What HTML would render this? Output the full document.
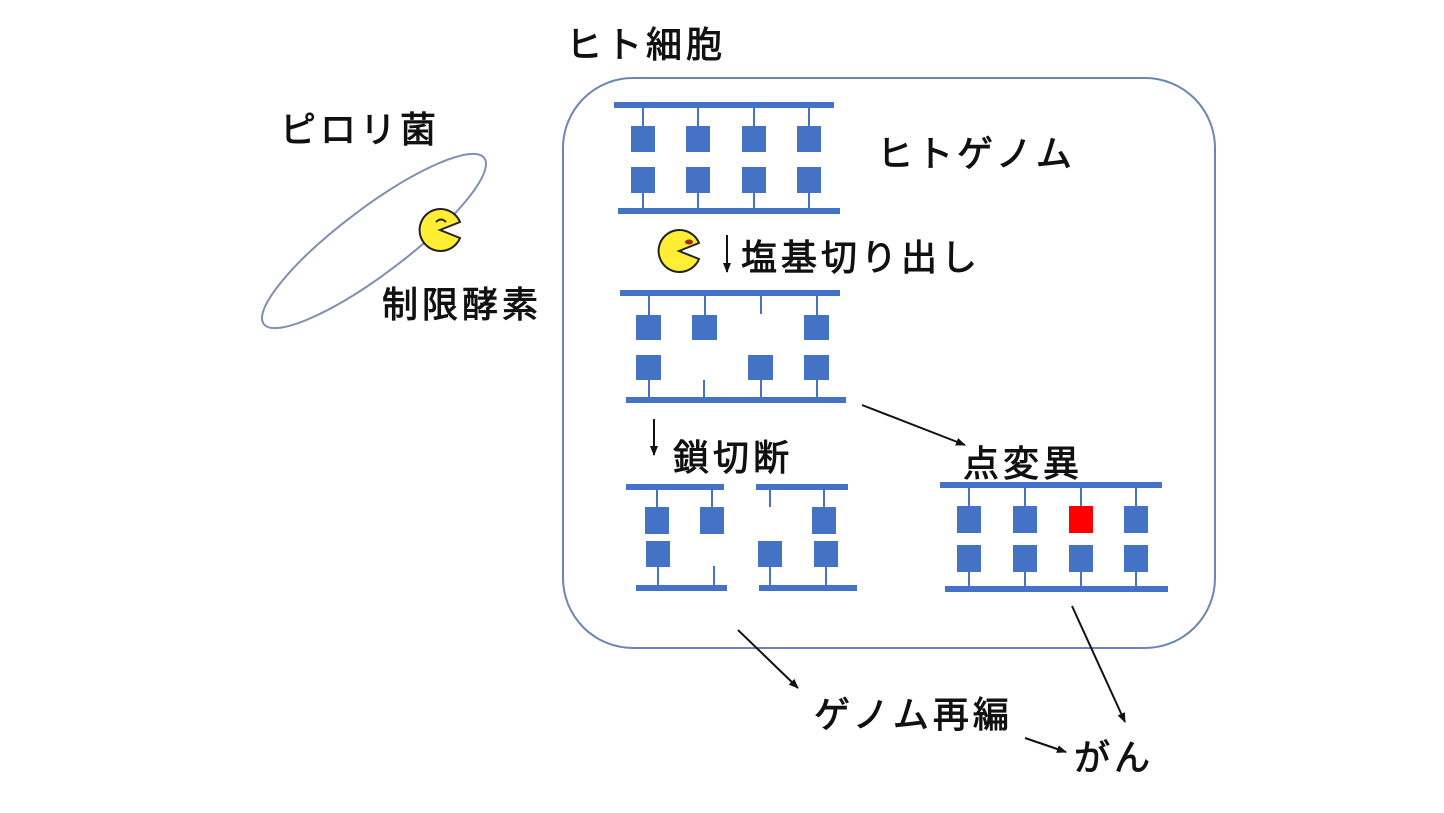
<!DOCTYPE html>
<html><head><meta charset="utf-8"><style>
html,body{margin:0;padding:0;background:#fff;}
svg text{font-family:"Liberation Sans","Noto Sans CJK JP",sans-serif;fill:#111;stroke:#111;stroke-width:0.9;letter-spacing:4px;}
</style></head><body>
<svg width="1444" height="808" viewBox="0 0 1444 808" xmlns="http://www.w3.org/2000/svg">
<defs><marker id="ah" markerWidth="10" markerHeight="8" refX="9" refY="4" orient="auto" markerUnits="userSpaceOnUse"><path d="M0,0 L10,4 L0,8 z" fill="#111"/></marker></defs>
<rect x="563" y="78" width="652" height="570" rx="70" fill="none" stroke="#6b86b5" stroke-width="2"/>
<ellipse cx="374" cy="241" rx="138" ry="33" transform="rotate(-37 374 241)" fill="none" stroke="#7d8fb3" stroke-width="2"/>
<g fill="#4472c4" stroke="none">
<rect x="614" y="102" width="220" height="6"/><rect x="618" y="208" width="222" height="6"/>
<rect x="631" y="126" width="24" height="26"/><rect x="686" y="126" width="24" height="26"/><rect x="742" y="126" width="24" height="26"/><rect x="797" y="126" width="24" height="26"/>
<rect x="631" y="167" width="24" height="26"/><rect x="686" y="167" width="24" height="26"/><rect x="742" y="167" width="24" height="26"/><rect x="797" y="167" width="24" height="26"/>
<rect x="642" y="108" width="2" height="18"/><rect x="697" y="108" width="2" height="18"/><rect x="753" y="108" width="2" height="18"/><rect x="808" y="108" width="2" height="18"/>
<rect x="642" y="193" width="2" height="15"/><rect x="697" y="193" width="2" height="15"/><rect x="753" y="193" width="2" height="15"/><rect x="808" y="193" width="2" height="15"/>
<rect x="620" y="290" width="220" height="6"/><rect x="626" y="397" width="220" height="6"/>
<rect x="636" y="315" width="25" height="25"/><rect x="692" y="315" width="25" height="25"/><rect x="804" y="315" width="25" height="25"/>
<rect x="636" y="355" width="25" height="25"/><rect x="748" y="355" width="25" height="25"/><rect x="804" y="355" width="25" height="25"/>
<rect x="648" y="296" width="2" height="19"/><rect x="704" y="296" width="2" height="19"/><rect x="760" y="296" width="2" height="18"/><rect x="816" y="296" width="2" height="19"/>
<rect x="648" y="380" width="2" height="17"/><rect x="703" y="380" width="2" height="17"/><rect x="760" y="380" width="2" height="17"/><rect x="816" y="380" width="2" height="17"/>
<rect x="626" y="484" width="98" height="6"/><rect x="636" y="585" width="91" height="6"/>
<rect x="645" y="507" width="24" height="27"/><rect x="700" y="507" width="24" height="27"/>
<rect x="646" y="541" width="24" height="26"/>
<rect x="656" y="490" width="2" height="17"/><rect x="711" y="490" width="2" height="17"/>
<rect x="657" y="567" width="2" height="18"/><rect x="713" y="566" width="2" height="19"/>
<rect x="756" y="484" width="92" height="6"/><rect x="759" y="585" width="98" height="6"/>
<rect x="769" y="490" width="2" height="17"/>
<rect x="812" y="507" width="24" height="27"/><rect x="823" y="490" width="2" height="17"/>
<rect x="758" y="541" width="24" height="26"/><rect x="814" y="541" width="24" height="26"/>
<rect x="769" y="567" width="2" height="18"/><rect x="825" y="567" width="2" height="18"/>
<rect x="940" y="482" width="222" height="6"/><rect x="945" y="586" width="223" height="6"/>
<rect x="957" y="506" width="24" height="27"/><rect x="1013" y="506" width="24" height="27"/><rect x="1069" y="506" width="24" height="27" fill="#ff0000"/><rect x="1124" y="506" width="24" height="27"/>
<rect x="957" y="545" width="24" height="27"/><rect x="1013" y="545" width="24" height="27"/><rect x="1069" y="545" width="24" height="27"/><rect x="1124" y="545" width="24" height="27"/>
<rect x="968" y="488" width="2" height="18"/><rect x="1024" y="488" width="2" height="18"/><rect x="1080" y="488" width="2" height="18"/><rect x="1135" y="488" width="2" height="18"/>
<rect x="968" y="572" width="2" height="14"/><rect x="1024" y="572" width="2" height="14"/><rect x="1080" y="572" width="2" height="14"/><rect x="1135" y="572" width="2" height="14"/>
</g>
<g stroke="#222" stroke-width="2" fill="#ffee33">
<path d="M440,230 L460,222 A21,21 0 1 0 460,238 Z"/>
<path d="M679,251 L699,243 A21,21 0 1 0 699,259 Z"/>
</g>
<path d="M436,222 q5,-5 10,0" fill="none" stroke="#222" stroke-width="2"/>
<ellipse cx="689" cy="242" rx="4" ry="2.5" fill="#a02a10"/>
<g stroke="#111" stroke-width="2" fill="none" marker-end="url(#ah)">
<line x1="727" y1="235" x2="727" y2="272"/>
<line x1="654" y1="419" x2="654" y2="455"/>
<line x1="862" y1="405" x2="965" y2="445"/>
<line x1="738" y1="630" x2="798" y2="688"/>
<line x1="1072" y1="606" x2="1125" y2="722"/>
<line x1="1025" y1="738" x2="1066" y2="752"/>
</g>
<g font-size="36">
<text x="566" y="57">ヒト細胞</text>
<text x="280" y="142">ピロリ菌</text>
<text x="877" y="166">ヒトゲノム</text>
<text x="741" y="270">塩基切り出し</text>
<text x="382" y="317">制限酵素</text>
<text x="673" y="470">鎖切断</text>
<text x="963" y="476">点変異</text>
<text x="814" y="727">ゲノム再編</text>
<text x="1074" y="770">がん</text>
</g>
</svg>
</body></html>
